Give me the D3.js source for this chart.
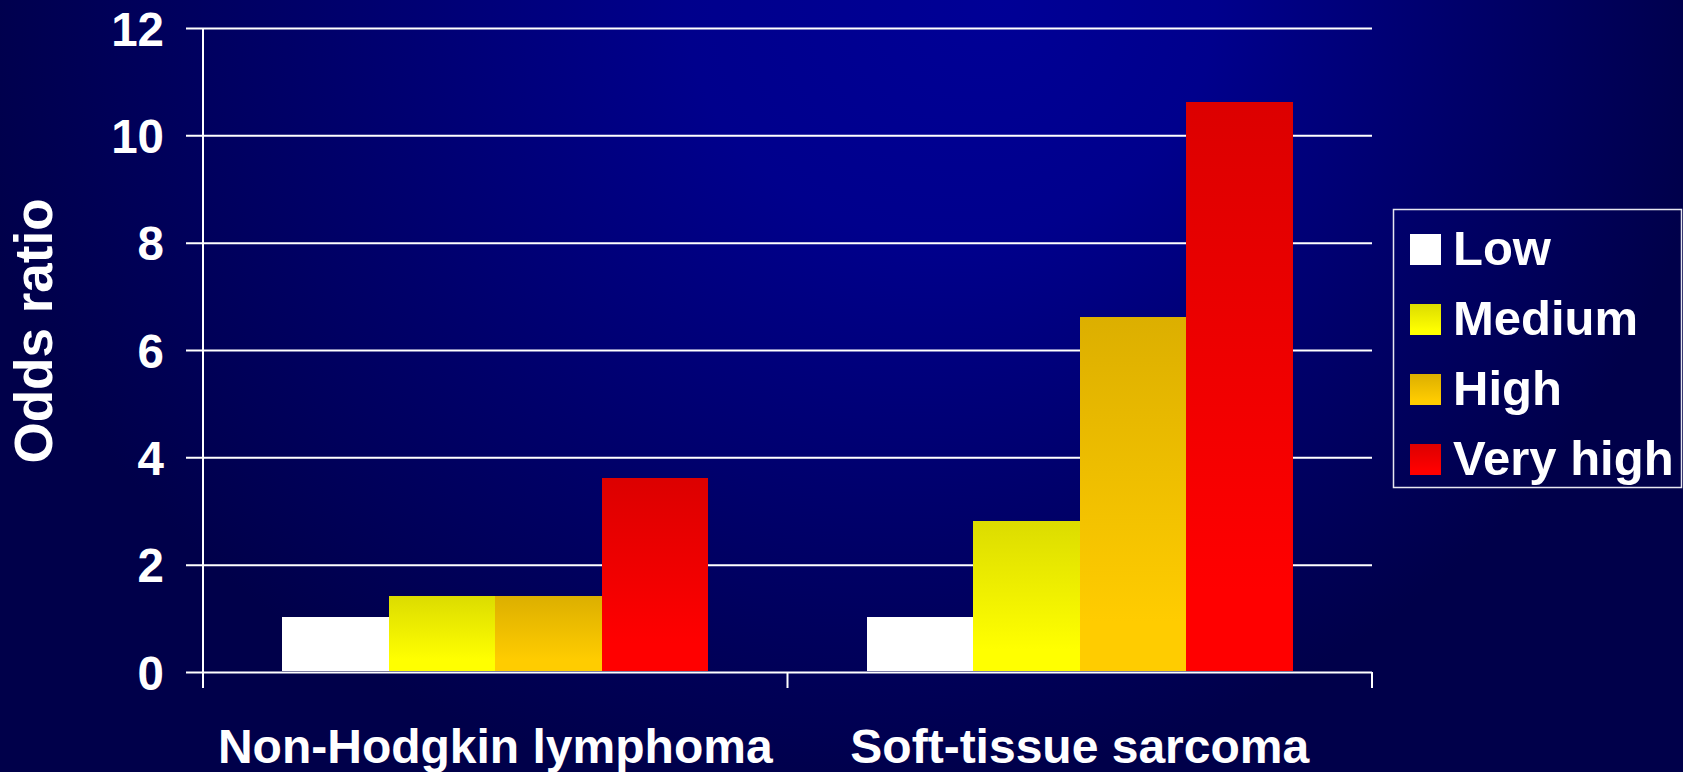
<!DOCTYPE html>
<html>
<head>
<meta charset="utf-8">
<script src="https://cdn.jsdelivr.net/npm/d3@7"></script>
<style>
  html, body { margin: 0; padding: 0; background: #000060; overflow: hidden; }
  svg { display: block; }
  text { font-family: "Liberation Sans", Arial, Helvetica, sans-serif; font-weight: bold; fill: #fff; }
</style>
</head>
<body>
<svg id="chart" width="1683" height="772"></svg>
<script>
// Odds ratio by exposure level, for two cancer types
const categories = ["Non-Hodgkin lymphoma", "Soft-tissue sarcoma"];
const series = ["Low", "Medium", "High", "Very high"];
const lowValues = [1.0, 1.0];
const mediumValues = [1.4, 2.8];
const highValues = [1.4, 6.6];
const veryHighValues = [3.6, 10.6];
const yTicks = [0, 2, 4, 6, 8, 10, 12];
const yTitle = "Odds ratio";

const valuesBySeries = [lowValues, mediumValues, highValues, veryHighValues];

// gradient colours per series: [top, bottom]
const seriesColors = [
  ["#ffffff", "#ffffff"],
  ["#dcdc00", "#ffff00"],
  ["#dcaf00", "#ffcc00"],
  ["#dc0000", "#ff0000"]
];

const W = 1683, H = 772;
const svg = d3.select("#chart");
const defs = svg.append("defs");

// background: bright blue glow near the top, fading to dark navy
const bg = defs.append("radialGradient")
  .attr("id", "bg")
  .attr("gradientUnits", "userSpaceOnUse")
  .attr("cx", 835).attr("cy", 0).attr("r", 885)
  .attr("fx", 1000).attr("fy", 0)
  .attr("gradientTransform", "scale(1,0.9)");
bg.append("stop").attr("offset", 0).attr("stop-color", "#000096");
bg.append("stop").attr("offset", 0.3).attr("stop-color", "#00008c");
bg.append("stop").attr("offset", 0.65).attr("stop-color", "#00006a");
bg.append("stop").attr("offset", 1).attr("stop-color", "#00004a");
svg.append("rect").attr("width", W).attr("height", H).attr("fill", "url(#bg)");

seriesColors.forEach((c, i) => {
  const g = defs.append("linearGradient")
    .attr("id", "grad" + i)
    .attr("x1", 0).attr("y1", 0).attr("x2", 0).attr("y2", 1);
  g.append("stop").attr("offset", 0).attr("stop-color", c[0]);
  g.append("stop").attr("offset", 0.86).attr("stop-color", c[1]);
  g.append("stop").attr("offset", 1).attr("stop-color", c[1]);
});

// plot area
const plotLeft = 203, plotRight = 1372, plotTop = 28, plotBottom = 672;

const y = d3.scaleLinear().domain([0, 12]).range([plotBottom, plotTop]);
const x0 = d3.scaleBand().domain(categories).range([plotLeft, plotRight]).paddingInner(0).paddingOuter(0);
const x1 = d3.scaleBand().domain(series).range([0, x0.bandwidth()]).paddingInner(0).paddingOuter(0.745);

// gridlines + tick labels
const yAxis = d3.axisLeft(y)
  .tickValues(yTicks)
  .tickSize(-(plotRight - 186))
  .tickPadding(22)
  .tickFormat(d3.format("d"));

const gy = svg.append("g")
  .attr("transform", `translate(186,0)`)
  .call(yAxis);
gy.select(".domain").remove();
gy.selectAll(".tick line").attr("stroke", "#fff").attr("stroke-width", 2);
gy.selectAll(".tick text")
  .attr("fill", "#fff")
  .style("font-size", "47.5px")
  .attr("dy", "0.36em");

// bars (sit on top of the baseline stroke)
const groups = svg.append("g")
  .attr("transform", "translate(0,-1.2)")
  .selectAll("g")
  .data(categories)
  .join("g")
  .attr("transform", d => `translate(${x0(d)},0)`);

groups.selectAll("rect")
  .data((d, ci) => series.map((s, si) => ({ s, si, v: valuesBySeries[si][ci] })))
  .join("rect")
  .attr("x", d => x1(d.s))
  .attr("width", x1.bandwidth())
  .attr("y", d => y(d.v))
  .attr("height", d => y(0) - y(d.v))
  .attr("fill", d => `url(#grad${d.si})`)
  .attr("shape-rendering", "crispEdges");

// vertical axis line
svg.append("line")
  .attr("x1", plotLeft).attr("x2", plotLeft)
  .attr("y1", y(12)).attr("y2", plotBottom + 16)
  .attr("stroke", "#fff").attr("stroke-width", 2);

// category separator ticks below the baseline
const bounds = [plotLeft].concat(categories.map(c => x0(c) + x0.bandwidth()));
svg.append("g").selectAll("line")
  .data(bounds)
  .join("line")
  .attr("x1", d => d).attr("x2", d => d)
  .attr("y1", plotBottom).attr("y2", plotBottom + 16)
  .attr("stroke", "#fff").attr("stroke-width", 2);

// category labels
svg.append("g").selectAll("text")
  .data(categories)
  .join("text")
  .attr("x", d => x0(d) + x0.bandwidth() / 2)
  .attr("y", 763)
  .attr("text-anchor", "middle")
  .style("font-size", "48px")
  .text(d => d);

// y-axis title
svg.append("text")
  .attr("transform", "translate(52,331) rotate(-90)")
  .attr("text-anchor", "middle")
  .style("font-size", "53px")
  .text(yTitle);

// legend
const legend = svg.append("g");
legend.append("rect")
  .attr("x", 1393.5).attr("y", 209.5)
  .attr("width", 288).attr("height", 278)
  .attr("fill", "none")
  .attr("stroke", "#e6e6f0").attr("stroke-width", 1.5);

const items = legend.selectAll("g.item")
  .data(series)
  .join("g")
  .attr("class", "item")
  .attr("transform", (d, i) => `translate(0,${265 + i * 70})`);

items.append("rect")
  .attr("x", 1410).attr("y", -31)
  .attr("width", 31).attr("height", 31)
  .attr("fill", (d, i) => `url(#grad${i})`);

items.append("text")
  .attr("x", 1453).attr("y", 0)
  .style("font-size", "49px")
  .text(d => d);
</script>
</body>
</html>
